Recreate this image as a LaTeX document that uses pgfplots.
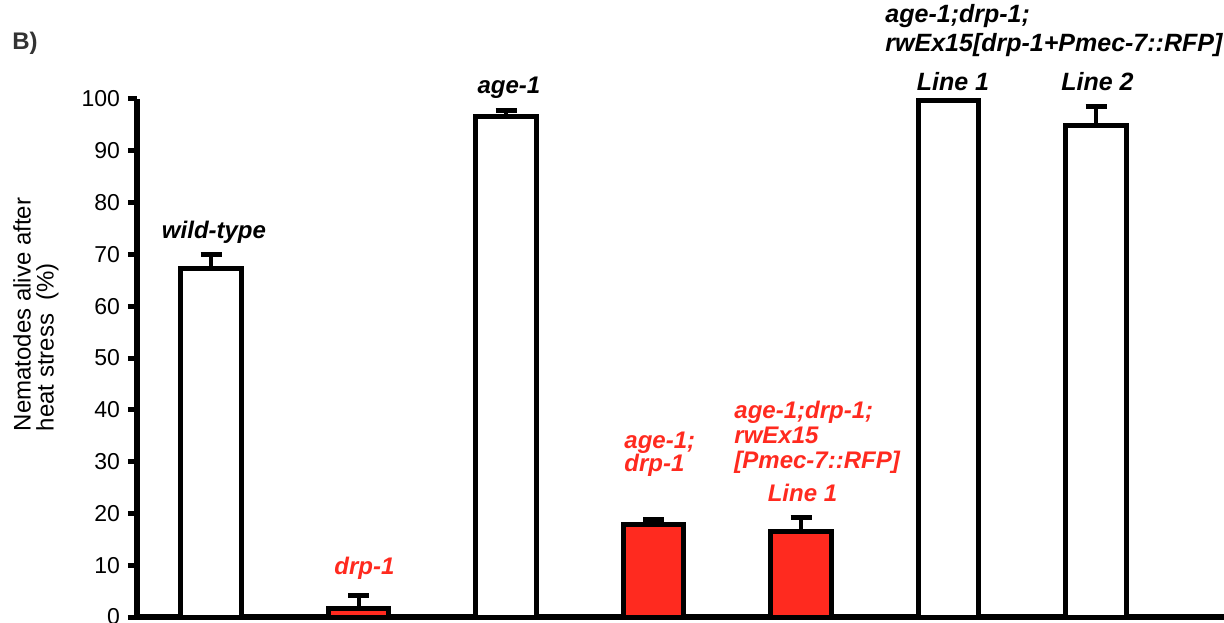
\documentclass[border=0pt]{standalone}
\usepackage{fontspec}
\setmainfont{Liberation Sans}
\usepackage{pgfplots}
\pgfplotsset{compat=1.18}
\usepackage{pgfplotstable}
\definecolor{barred}{HTML}{FF2A1F}
\definecolor{dgray}{HTML}{333333}

\pgfplotstableread{
x y e
0 67.2 2.7
2 96.7 1.1
5 99.8 0
6 94.8 3.7
}\whitebars
\pgfplotstableread{
x y e
1 1.7 2.4
3 17.8 1.1
4 16.5 2.7
}\redbars

\begin{document}
\begin{tikzpicture}
\begin{axis}[
  width=543.5pt, height=259pt, scale only axis,
  xmin=-0.502, xmax=6.868, ymin=0, ymax=100,
  axis x line=bottom, axis y line=left,
  axis line style={line width=3pt, -},
  xtick=\empty,
  ytick={0,10,...,100},
  tick align=outside, major tick length=4.5pt,
  tick style={line width=2.5pt, black},
  yticklabel style={font=\fontsize{11.5}{13}\selectfont, xshift=-0.5pt},
  /pgf/number format/assume math mode=true,
  ybar, bar width=0.41,
  clip=false,
]
\addplot[bar shift=0pt, fill=white, draw=black, line width=2.5pt,
  error bars/.cd, y dir=plus, y explicit,
  error bar style={line width=2pt, black},
  error mark options={rotate=90, line width=2.5pt, mark size=5.25pt, black}]
  table[x=x, y=y, y error=e] {\whitebars};
\addplot[bar shift=0pt, fill=barred, draw=black, line width=2.5pt,
  error bars/.cd, y dir=plus, y explicit,
  error bar style={line width=2pt, black},
  error mark options={rotate=90, line width=2.5pt, mark size=5.25pt, black}]
  table[x=x, y=y, y error=e] {\redbars};

% labels
\node[font=\fontsize{12}{12.5}\selectfont\bfseries\itshape] at (axis cs:0.02,74.3) {wild-type};
\node[font=\fontsize{12}{12.5}\selectfont\bfseries\itshape, text=barred] at (axis cs:1.04,9.5) {drp-1};
\node[font=\fontsize{12}{12.5}\selectfont\bfseries\itshape] at (axis cs:2.02,102.1) {age-1};
\node[font=\fontsize{12}{11.5}\selectfont\bfseries\itshape, text=barred, align=left, anchor=west, inner sep=0pt] at (axis cs:2.8,31.5) {age-1;\\drp-1};
\node[font=\fontsize{12}{12.5}\selectfont\bfseries\itshape, text=barred, align=left, anchor=west, inner sep=0pt] at (axis cs:3.546,34.7) {age-1;drp-1;\\rwEx15\\{[}Pmec-7::RFP{]}};
\node[font=\fontsize{12}{12.5}\selectfont\bfseries\itshape, text=barred] at (axis cs:4.01,23.9) {Line 1};
\node[font=\fontsize{12.5}{14.5}\selectfont\bfseries\itshape, align=left, anchor=west, inner sep=0pt] at (axis cs:4.57,113.2) {age-1;drp-1;\\rwEx15{[}drp-1+Pmec-7::RFP{]}};
\node[font=\fontsize{12.5}{14.5}\selectfont\bfseries\itshape] at (axis cs:5.03,103.3) {Line 1};
\node[font=\fontsize{12.5}{14.5}\selectfont\bfseries\itshape] at (axis cs:6.01,103.3) {Line 2};
\node[font=\fontsize{12}{14}\selectfont\bfseries, text=dgray, xshift=-56pt] at (rel axis cs:0,1.108) {B)};
\node[xshift=-50.5pt, rotate=90, align=left, font=\fontsize{12}{11.5}\selectfont] at (rel axis cs:0,0.584) {Nematodes alive after\\heat stress \ (\%)};
\end{axis}
\pgfresetboundingbox
\path (current axis.south west) ++(-68.5pt,-2.5pt) rectangle ++(612pt,311pt);
\end{tikzpicture}
\end{document}
